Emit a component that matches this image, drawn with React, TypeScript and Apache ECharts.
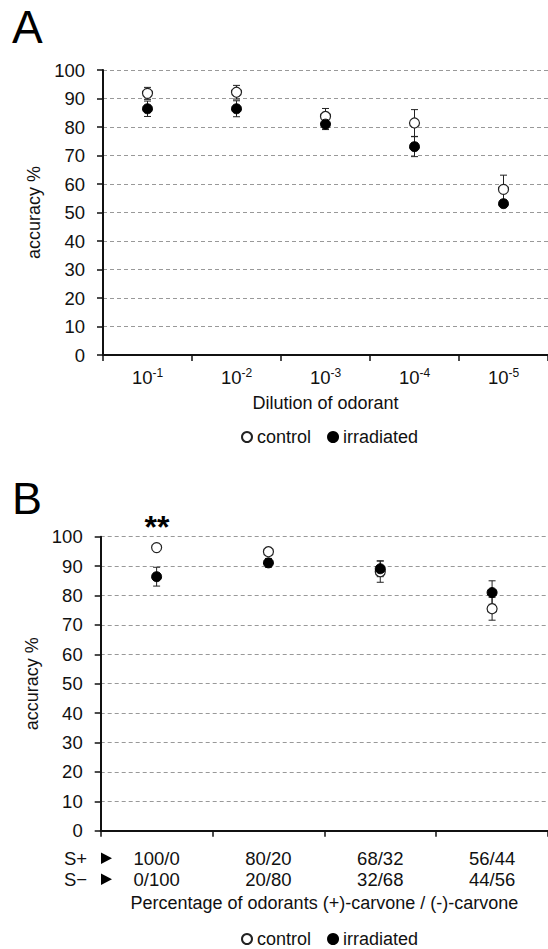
import React, { useEffect, useRef } from "react";
import * as echarts from "echarts";

// ---------- data ----------
const dilutionExponents = ["-1", "-2", "-3", "-4", "-5"];
const controlA = [91.8, 92.2, 83.7, 81.4, 58.1];
const controlAErr = [2.1, 2.4, 2.8, 4.7, 5.0];
const irradiatedA = [86.4, 86.4, 81.0, 73.1, 53.1];
const irradiatedAErr = [2.7, 2.8, 1.9, 3.5, 1.0];

const ratioSPlus = ["100/0", "80/20", "68/32", "56/44"];
const ratioSMinus = ["0/100", "20/80", "32/68", "44/56"];
const controlB = [96.3, 94.9, 88.1, 75.5];
const controlBErr = [0.8, 0.8, 3.6, 3.9];
const irradiatedB = [86.4, 91.1, 89.1, 81.0];
const irradiatedBErr = [3.2, 1.5, 2.7, 4.0];

const yMin = 0;
const yMax = 100;
const yStep = 10;

const FONT = "Liberation Sans, Arial, sans-serif";
const DARK = "#111";

const categoriesA = dilutionExponents.map((e) => "10^" + e);
const categoriesB = ratioSPlus.map((p, i) => p + "\n" + ratioSMinus[i]);

function errData(vals: number[], errs: number[]) {
  return vals.map((v, i) => [i, v, errs[i]]);
}

function errorRender(params: any, api: any) {
  const x = api.value(0);
  const y = api.value(1);
  const e = api.value(2);
  const top = api.coord([x, y + e]);
  const bot = api.coord([x, y - e]);
  const hw = 3.5;
  const style = { stroke: "#222", lineWidth: 1 };
  return {
    type: "group",
    children: [
      { type: "line", shape: { x1: top[0], y1: top[1], x2: bot[0], y2: bot[1] }, style },
      { type: "line", shape: { x1: top[0] - hw, y1: top[1], x2: top[0] + hw, y2: top[1] }, style },
      { type: "line", shape: { x1: bot[0] - hw, y1: bot[1], x2: bot[0] + hw, y2: bot[1] }, style },
    ],
  };
}

function yAxis(gridIndex: number) {
  return {
    type: "value",
    gridIndex,
    min: yMin,
    max: yMax,
    interval: yStep,
    name: "accuracy %",
    nameLocation: "middle",
    nameGap: gridIndex === 0 ? 55 : 50,
    nameTextStyle: { fontSize: 18, color: DARK, fontFamily: FONT },
    axisLine: { show: true, lineStyle: { color: DARK, width: 2 } },
    axisTick: { show: true, length: 6, lineStyle: { color: DARK, width: 1.5 } },
    axisLabel: { fontSize: 18.5, color: DARK, fontFamily: FONT, margin: 18 },
    splitLine: { show: true, lineStyle: { color: "#999", width: 1, type: [4, 3] } },
  };
}

const controlStyle = { color: "#fff", borderColor: "#222", borderWidth: 1.2, opacity: 1 };
const irradStyle = { color: "#000", borderColor: "#000", borderWidth: 1, opacity: 1 };

const legendCommon = {
  left: 241,
  padding: 0,
  itemWidth: 10,
  itemHeight: 10,
  itemGap: 16,
  textStyle: { fontSize: 18, lineHeight: 18, color: DARK, fontFamily: FONT },
  data: ["control", "irradiated"],
};

export default function App() {
  const ref = useRef<HTMLDivElement>(null);
  useEffect(() => {
    if (!ref.current) return;
    const chart = echarts.init(ref.current, null, { renderer: "svg" });
    const option: any = {
      animation: false,
      backgroundColor: "#fff",
      textStyle: { fontFamily: FONT },
      grid: [
        { left: 103, top: 70, width: 447.5, height: 285 },
        { left: 100.7, top: 536.7, width: 449.6, height: 294 },
      ],
      xAxis: [
        {
          type: "category",
          gridIndex: 0,
          data: categoriesA,
          boundaryGap: true,
          name: "Dilution of odorant",
          nameLocation: "middle",
          nameGap: 39,
          nameTextStyle: { fontSize: 18, color: DARK, fontFamily: FONT },
          axisLine: { show: true, lineStyle: { color: DARK, width: 2 } },
          axisTick: { show: true, length: 6, alignWithLabel: false, lineStyle: { color: DARK, width: 1.5 } },
          axisLabel: {
            margin: 12,
            interval: 0,
            formatter: (v: string) => "{n|10}{s|" + v.split("^")[1] + "}",
            rich: {
              n: { fontSize: 18.5, color: DARK, fontFamily: FONT },
              s: { fontSize: 12, color: DARK, fontFamily: FONT, padding: [0, 0, 9, 0] },
            },
          },
          splitLine: { show: false },
        },
        {
          type: "category",
          gridIndex: 1,
          data: categoriesB,
          boundaryGap: true,
          name: "Percentage of odorants (+)-carvone / (-)-carvone",
          nameLocation: "middle",
          nameGap: 63,
          nameTextStyle: { fontSize: 18, color: DARK, fontFamily: FONT },
          axisLine: { show: true, lineStyle: { color: DARK, width: 2 } },
          axisTick: { show: true, length: 6, alignWithLabel: false, lineStyle: { color: DARK, width: 1.5 } },
          axisLabel: { margin: 17, interval: 0, fontSize: 18.5, lineHeight: 21, color: DARK, fontFamily: FONT },
          splitLine: { show: false },
        },
      ],
      yAxis: [yAxis(0), yAxis(1)],
      legend: [
        { ...legendCommon, top: 428 },
        { ...legendCommon, top: 930 },
      ],
      series: [
        { type: "custom", xAxisIndex: 0, yAxisIndex: 0, renderItem: errorRender, data: errData(controlA, controlAErr), z: 1, silent: true },
        { type: "custom", xAxisIndex: 0, yAxisIndex: 0, renderItem: errorRender, data: errData(irradiatedA, irradiatedAErr), z: 1, silent: true },
        { type: "custom", xAxisIndex: 1, yAxisIndex: 1, renderItem: errorRender, data: errData(controlB, controlBErr), z: 1, silent: true },
        { type: "custom", xAxisIndex: 1, yAxisIndex: 1, renderItem: errorRender, data: errData(irradiatedB, irradiatedBErr), z: 1, silent: true },
        { name: "control", type: "scatter", xAxisIndex: 0, yAxisIndex: 0, data: controlA, symbol: "circle", symbolSize: 10, itemStyle: controlStyle, z: 3 },
        { name: "irradiated", type: "scatter", xAxisIndex: 0, yAxisIndex: 0, data: irradiatedA, symbol: "circle", symbolSize: 10, itemStyle: irradStyle, z: 4 },
        { name: "control", type: "scatter", xAxisIndex: 1, yAxisIndex: 1, data: controlB, symbol: "circle", symbolSize: 10, itemStyle: controlStyle, z: 3 },
        { name: "irradiated", type: "scatter", xAxisIndex: 1, yAxisIndex: 1, data: irradiatedB, symbol: "circle", symbolSize: 10, itemStyle: irradStyle, z: 4 },
      ],
      graphic: [
        { type: "text", left: 12, top: 4, style: { text: "A", font: "46px " + FONT, fill: "#000" } },
        { type: "text", left: 12, top: 476, style: { text: "B", font: "45px " + FONT, fill: "#000" } },
        { type: "text", x: 157, y: 527, style: { text: "**", font: "bold 32px " + FONT, fill: "#000", align: "center", verticalAlign: "middle" } },
        { type: "text", x: 64, y: 858, style: { text: "S+", font: "18.5px " + FONT, fill: DARK, verticalAlign: "middle" } },
        { type: "text", x: 64, y: 879, style: { text: "S\u2212", font: "18.5px " + FONT, fill: DARK, verticalAlign: "middle" } },
        { type: "polygon", shape: { points: [[101, 852.5], [101, 864], [112, 858.2]] }, style: { fill: "#000" } },
        { type: "polygon", shape: { points: [[101, 873.5], [101, 885], [112, 879.2]] }, style: { fill: "#000" } },
      ],
    };
    chart.setOption(option);
    return () => chart.dispose();
  }, []);
  return (
    <div
      ref={ref}
      style={{ position: "absolute", left: 0, top: 0, width: 548, height: 949, overflow: "hidden", background: "#fff" }}
    />
  );
}
